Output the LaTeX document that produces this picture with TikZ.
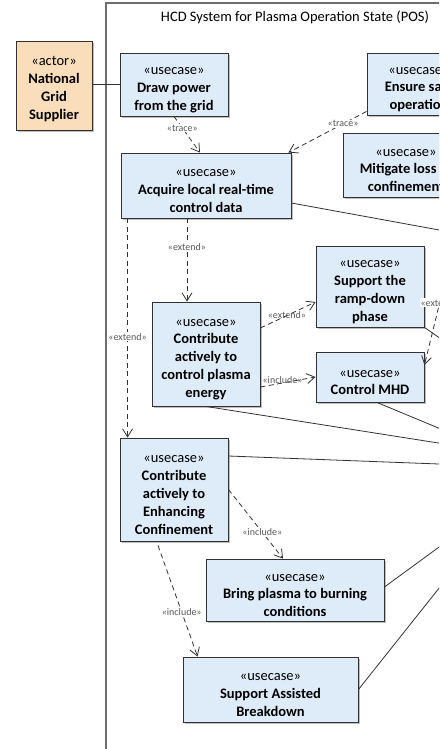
\documentclass[tikz,border=0pt]{standalone}
\usepackage{fontspec}
\setmainfont{Carlito}
\usetikzlibrary{arrows.meta,shadows,calc}

\definecolor{ucblue}{RGB}{222,236,250}
\definecolor{actortan}{RGB}{250,221,187}
\definecolor{boxedge}{RGB}{50,50,50}
\definecolor{sysedge}{RGB}{110,110,110}
\newcommand{\ucfont}{\fontsize{14.5}{17.8}\selectfont}
\newcommand{\stfont}{\fontsize{10}{12}\selectfont}
% stereotype line, with a strut that lowers the text block a little
\newcommand{\ster}[1]{\rule{0pt}{18pt}«#1»}

\tikzset{
  usecase/.style={draw=boxedge, fill=ucblue, line width=0.9pt, align=center,
    inner sep=0pt, font=\ucfont,
    drop shadow={shadow xshift=1.6pt, shadow yshift=-1.6pt, fill=black, opacity=0.25}},
  actorbox/.style={usecase, fill=actortan},
  assoc/.style={draw=boxedge, line width=0.8pt},
  dep/.style={draw=boxedge, line width=0.8pt, dash pattern=on 5pt off 3.5pt,
    -{Straight Barb[length=8pt,width=10pt]}},
  stereo/.style={font=\stfont, text=black!65, fill=white, inner sep=0.8pt}
}

\begin{document}
\begin{tikzpicture}[x=1pt,y=-1pt]
  \useasboundingbox (0,0) rectangle (439,749);
  \clip (0,0) rectangle (439,749);

  % System boundary
  \draw[sysedge, line width=1.1pt] (106,3) rectangle (900,900);
  \node[font=\ucfont] (systitle) at (295,17) {HCD System for Plasma Operation State (POS)};

  % Actor
  \node[actorbox, minimum width=76pt, minimum height=89pt] (supplier) at (54,85.5)
    {\rule{0pt}{16pt}«actor»\\\textbf{National}\\\textbf{Grid}\\\textbf{Supplier}};

  % Use cases
  \node[usecase, minimum width=108pt, minimum height=63pt] (drawpower) at (174,84.5)
    {\ster{usecase}\\\textbf{Draw power}\\\textbf{from the grid}};
  \node[usecase, minimum width=104pt, minimum height=62pt] (ensuresafe) at (419,84)
    {\ster{usecase}\\\textbf{Ensure safe}\\\textbf{operation}};
  \node[usecase, minimum width=126pt, minimum height=64pt] (mitigate) at (406,165)
    {\ster{usecase}\\\textbf{Mitigate loss of}\\\textbf{confinement}};
  \node[usecase, minimum width=170pt, minimum height=65pt] (acquire) at (206,185.5)
    {\ster{usecase}\\\textbf{Acquire local real-time}\\\textbf{control data}};
  \node[usecase, minimum width=108pt, minimum height=104pt] (ctrlenergy) at (206,354)
    {\ster{usecase}\\\textbf{Contribute}\\\textbf{actively to}\\\textbf{control plasma}\\\textbf{energy}};
  \node[usecase, minimum width=108pt, minimum height=81pt] (rampdown) at (370,286.5)
    {\ster{usecase}\\\textbf{Support the}\\\textbf{ramp-down}\\\textbf{phase}};
  \node[usecase, minimum width=108pt, minimum height=50pt] (ctrlmhd) at (370,377)
    {\ster{usecase}\\\textbf{Control MHD}};
  \node[usecase, minimum width=108pt, minimum height=103pt] (enhconf) at (174,489.5)
    {\ster{usecase}\\\textbf{Contribute}\\\textbf{actively to}\\\textbf{Enhancing}\\\textbf{Confinement}};
  \node[usecase, minimum width=178pt, minimum height=62pt] (burning) at (295,590)
    {\ster{usecase}\\\textbf{Bring plasma to burning}\\\textbf{conditions}};
  \node[usecase, minimum width=175pt, minimum height=65pt] (assisted) at (270.5,689.5)
    {\ster{usecase}\\\textbf{Support Assisted}\\\textbf{Breakdown}};

  % Free ends to the right, outside the view
  \coordinate (extsrc) at (444.5,283);
  \coordinate (rhsacq) at (460,233.8);
  \coordinate (rhsramp) at (460,352);
  \coordinate (rhsmhd) at (460,437);
  \coordinate (rhsenergy) at (460,446.4);
  \coordinate (rhsenh) at (460,464.8);
  \coordinate (rhsburn) at (460,531.7);
  \coordinate (rhsassist) at (460,561.8);

  % Associations
  \draw[assoc] (supplier.east |- drawpower.west) -- (drawpower.west);
  \draw[assoc] ([yshift=-17.5pt]acquire.east) -- (rhsacq);
  \draw[assoc] (rampdown.south east) -- (rhsramp);
  \draw[assoc] ([xshift=7pt]ctrlmhd.south) -- (rhsmhd);
  \draw[assoc] (ctrlenergy.south) -- (rhsenergy);
  \draw[assoc] ([yshift=33.5pt]enhconf.east) -- (rhsenh);
  \draw[assoc] ([yshift=3pt]burning.east) -- (rhsburn);
  \draw[assoc] (assisted.east) -- (rhsassist);

  % Dependencies
  \draw[dep] (drawpower.south) -- node[stereo, pos=0.32] {«trace»} ([xshift=-6pt]acquire.north);
  \draw[dep] ([yshift=4pt]ensuresafe.south west) -- node[stereo, pos=0.3] {«trace»} ([xshift=-3pt]acquire.north east);
  \draw[dep] ([xshift=-19pt]acquire.south) -- node[stereo, pos=0.35] {«extend»} ([xshift=-19pt]ctrlenergy.north);
  \draw[dep] ([xshift=7pt]acquire.south west) -- node[stereo, pos=0.54] {«extend»} ([xshift=7pt]acquire.south west |- enhconf.north);
  \draw[dep] ([yshift=26pt]ctrlenergy.east) -- node[stereo, pos=0.48, fill=none, above=-4pt] {«extend»} ([yshift=-15.5pt]rampdown.west);
  \draw[dep] ([yshift=-33pt]ctrlenergy.east) -- node[stereo, pos=0.4, fill=none, above=-2pt] {«include»} (ctrlmhd.west);
  \draw[dep] (extsrc) -- node[stereo, pos=0.24] {«extend»} ([yshift=12pt]ctrlmhd.east);
  \draw[dep] (enhconf.east) -- node[stereo, pos=0.62] {«include»} ([xshift=-12pt]burning.north);
  \draw[dep] ([xshift=-16pt,yshift=-4pt]enhconf.south) -- node[stereo, pos=0.6] {«include»} ([xshift=15pt]assisted.north west);
\end{tikzpicture}
\end{document}
